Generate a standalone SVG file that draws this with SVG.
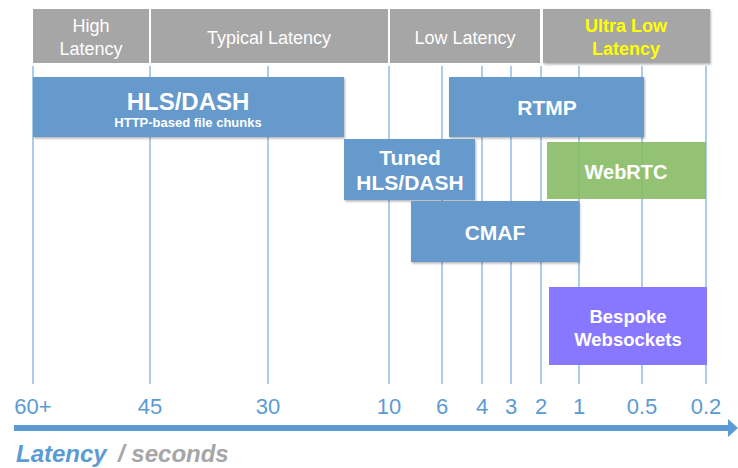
<svg xmlns="http://www.w3.org/2000/svg" width="738" height="468" viewBox="0 0 738 468">
<defs>
<style>
.hdr{fill:#a6a6a6}
.ht{font-family:"Liberation Sans",Arial,sans-serif;font-size:18px;fill:#ffffff;text-anchor:middle}
.vl{stroke:#5b9bd5;stroke-width:1.2;opacity:0.85}
.box{fill:#6699cc}
.bt{font-family:"Liberation Sans",Arial,sans-serif;font-weight:bold;fill:#ffffff;text-anchor:middle}
.tk{font-family:"Liberation Sans",Arial,sans-serif;font-size:22px;fill:#5b9bd5;text-anchor:middle}
</style>
<filter id="sh" x="-5%" y="-5%" width="110%" height="120%">
<feDropShadow dx="1" dy="1.5" stdDeviation="1" flood-color="#000" flood-opacity="0.3"/>
</filter>
</defs>
<g id="headers">
<g id="h-high"><rect class="hdr" x="33" y="9" width="116" height="54"/><text class="ht" x="91" y="32">High</text><text class="ht" x="91" y="55">Latency</text></g>
<g id="h-typical"><rect class="hdr" x="151" y="9" width="237" height="54"/><text class="ht" x="269" y="44">Typical Latency</text></g>
<g id="h-low"><rect class="hdr" x="390" y="9" width="150" height="54"/><text class="ht" x="465" y="44">Low Latency</text></g>
<g id="h-ultra"><rect class="hdr" x="543" y="9" width="167" height="54" filter="url(#sh)"/><text class="ht" x="626" y="32" style="fill:#ffff00;font-weight:bold">Ultra Low</text><text class="ht" x="626" y="55" style="fill:#ffff00;font-weight:bold">Latency</text></g>
</g>
<g id="connectors">
<line class="vl" x1="33" y1="66" x2="33" y2="384"/>
<line class="vl" x1="150" y1="66" x2="150" y2="384"/>
<line class="vl" x1="268" y1="66" x2="268" y2="384"/>
<line class="vl" x1="389" y1="66" x2="389" y2="384"/>
<line class="vl" x1="442" y1="66" x2="442" y2="384"/>
<line class="vl" x1="482" y1="66" x2="482" y2="384"/>
<line class="vl" x1="511" y1="66" x2="511" y2="384"/>
<line class="vl" x1="541" y1="66" x2="541" y2="384"/>
<line class="vl" x1="579" y1="66" x2="579" y2="384"/>
<line class="vl" x1="642" y1="66" x2="642" y2="384"/>
<line class="vl" x1="706" y1="66" x2="706" y2="384"/>
<line x1="14" y1="428" x2="729" y2="428" stroke="#5b9bd5" stroke-width="6"/>
<polygon points="728,419 738,428 728,437" fill="#5b9bd5"/>
</g>
<g id="ticks">
<text class="tk" x="33" y="414">60+</text>
<text class="tk" x="150" y="414">45</text>
<text class="tk" x="268" y="414">30</text>
<text class="tk" x="389" y="414">10</text>
<text class="tk" x="442" y="414">6</text>
<text class="tk" x="482" y="414">4</text>
<text class="tk" x="511" y="414">3</text>
<text class="tk" x="541" y="414">2</text>
<text class="tk" x="579" y="414">1</text>
<text class="tk" x="642" y="414">0.5</text>
<text class="tk" x="706" y="414">0.2</text>
</g>
<g id="n-hls"><rect class="box" x="33" y="77" width="311" height="60" filter="url(#sh)"/><text class="bt" x="188" y="110" font-size="24">HLS/DASH</text><text class="bt" x="188" y="127" font-size="13">HTTP-based file chunks</text></g>
<g id="n-rtmp"><rect class="box" x="449" y="77" width="195" height="60" filter="url(#sh)"/><text class="bt" x="547" y="115" font-size="21">RTMP</text></g>
<g id="n-tuned"><rect class="box" x="344" y="139" width="131" height="61" filter="url(#sh)"/><text class="bt" x="410" y="165" font-size="21">Tuned</text><text class="bt" x="410" y="190" font-size="21">HLS/DASH</text></g>
<g id="n-webrtc"><rect x="547" y="142" width="159" height="57" fill="#88bb66" opacity="0.9"/><text class="bt" x="626" y="179" font-size="20">WebRTC</text></g>
<g id="n-cmaf"><rect class="box" x="411" y="201" width="168" height="61" filter="url(#sh)"/><text class="bt" x="495" y="240" font-size="21">CMAF</text></g>
<g id="n-bespoke"><rect x="549" y="287" width="158" height="78" fill="#8877ff"/><text class="bt" x="628" y="323" font-size="18.5">Bespoke</text><text class="bt" x="628" y="346" font-size="18.5">Websockets</text></g>
<g id="axis-label"><text x="16" y="462" font-family="'Liberation Sans',Arial,sans-serif" font-size="24" font-weight="bold" font-style="italic" fill="#5b9bd5">Latency</text><text x="118" y="462" font-family="'Liberation Sans',Arial,sans-serif" font-size="24" font-weight="bold" font-style="italic" fill="#a6a6a6">/ seconds</text></g>
</svg>
